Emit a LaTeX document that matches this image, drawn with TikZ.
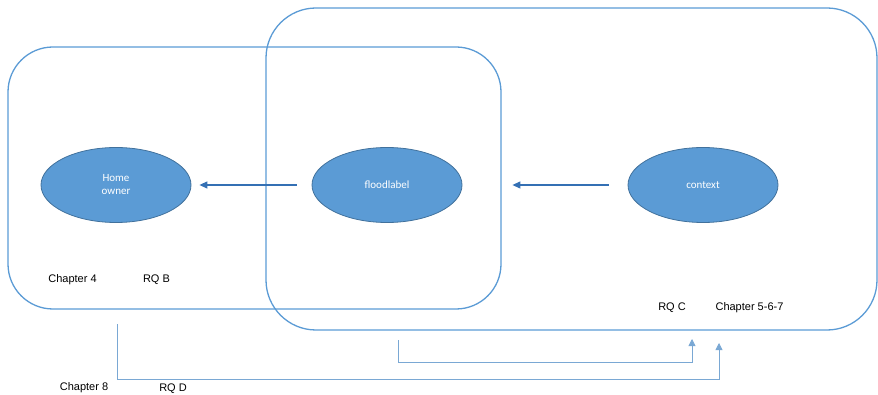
\documentclass[tikz,border=0pt]{standalone}
\usepackage{fontspec}
\setmainfont{Liberation Sans}
\newfontfamily\calibri{Carlito}
\usetikzlibrary{shapes.geometric,arrows.meta}
\definecolor{boxblue}{RGB}{91,155,213}
\definecolor{ellfill}{RGB}{91,155,213}
\definecolor{elldraw}{RGB}{65,113,156}
\definecolor{arrblue}{RGB}{52,112,180}
\definecolor{linkblue}{RGB}{122,168,212}
\begin{document}
\begin{tikzpicture}[x=1pt,y=-1pt,
frame/.style={draw=boxblue, line width=1.3pt, inner sep=0pt},
blob/.style={ellipse, fill=ellfill, draw=elldraw, line width=0.8pt, minimum width=150pt, minimum height=75pt, inner sep=0pt, text=white, align=center, font=\calibri\fontsize{11}{13}\selectfont},
lbl/.style={inner sep=0pt, font=\fontsize{11}{13}\selectfont},
flow/.style={draw=arrblue, line width=1.2pt, -{Triangle[length=8pt,width=7pt]}},
link/.style={draw=linkblue, line width=0.8pt, -{Triangle[length=7pt,width=7pt]}}]
\useasboundingbox (0,0) rectangle (878,395);
% the two frames
\node[frame, rounded corners=45pt, minimum width=493pt, minimum height=262pt] (ownerbox) at (254.5,178) {};
\node[frame, rounded corners=50pt, minimum width=611pt, minimum height=322pt] (labelbox) at (571.5,169) {};
% ellipses
\node[blob] (home) at (116,185) {Home\\owner};
\node[blob] (flood) at (387,185) {floodlabel};
\node[blob] (ctx) at (703,185) {context};
\draw[flow, shorten <=15pt, shorten >=8pt] (flood) -- (home);
\draw[flow, shorten <=19pt, shorten >=50pt] (ctx) -- (flood);
% labels
\node[lbl] (ch4) at (72.5,280) {Chapter 4};
\node[lbl] (rqb) at (156.5,280) {RQ B};
\node[lbl] (rqc) at (672,308) {RQ C};
\node[lbl] (ch567) at (749.5,308) {Chapter 5-6-7};
\node[lbl] (ch8) at (84,388) {Chapter 8};
\node[lbl] (rqd) at (173,389) {RQ D};
% links below
\coordinate (floodout) at (398,340);
\coordinate (ctxin) at (692,339);
\coordinate (ownerout) at (117,324);
\coordinate (allin) at (719,343);
\draw[link] (floodout) -- ++(0,22) -| (ctxin);
\draw[link] (ownerout) -- ++(0,55) -| (allin);
\end{tikzpicture}
\end{document}
